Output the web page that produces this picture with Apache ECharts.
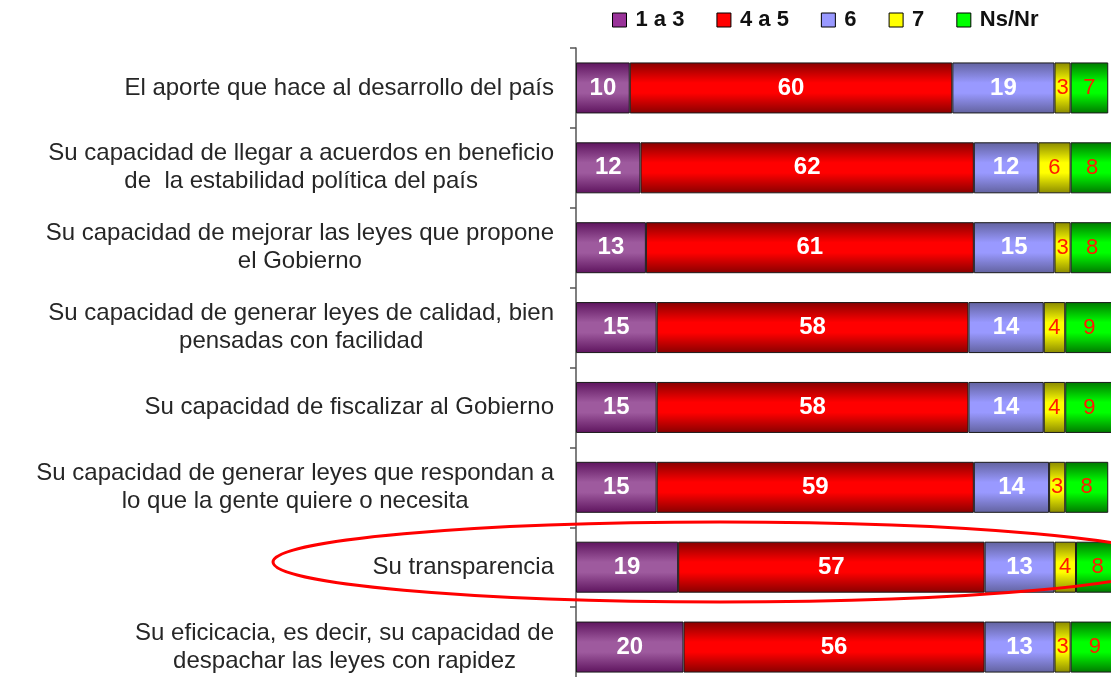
<!DOCTYPE html>
<html>
<head>
<meta charset="utf-8">
<script src="https://cdn.jsdelivr.net/npm/echarts@6/dist/echarts.min.js"></script>
<style>
  html, body { margin: 0; padding: 0; background: #fff; }
  #main { width: 1111px; height: 677px; }
</style>
</head>
<body>
<div id="main"></div>
<script>
var categories = [
  'El aporte que hace al desarrollo del país',
  'Su capacidad de llegar a acuerdos en beneficio\nde  la estabilidad política del país',
  'Su capacidad de mejorar las leyes que propone\nel Gobierno',
  'Su capacidad de generar leyes de calidad, bien\npensadas con facilidad',
  'Su capacidad de fiscalizar al Gobierno',
  'Su capacidad de generar leyes que respondan a\nlo que la gente quiere o necesita',
  'Su transparencia',
  'Su eficicacia, es decir, su capacidad de\ndespachar las leyes con rapidez'
];
var seriesNames = ['1 a 3', '4 a 5', '6', '7', 'Ns/Nr'];
var v1a3 = [10, 12, 13, 15, 15, 15, 19, 20];
var v4a5 = [60, 62, 61, 58, 58, 59, 57, 56];
var v6 = [19, 12, 15, 14, 14, 14, 13, 13];
var v7 = [3, 6, 3, 4, 4, 3, 4, 3];
var vNsNr = [7, 8, 8, 9, 9, 8, 8, 9];

var chart = echarts.init(document.getElementById('main'));

function grad(edge, mid) {
  return new echarts.graphic.LinearGradient(0, 0, 0, 1, [
    { offset: 0, color: edge },
    { offset: 0.4, color: mid },
    { offset: 0.6, color: mid },
    { offset: 1, color: edge }
  ]);
}

var flat = ['#993399', '#ff0000', '#9999ff', '#ffff00', '#00ff00'];
var fills = [
  grad('#5e145e', '#9e5a9e'),
  grad('#880000', '#ff0000'),
  grad('#62629e', '#9999ff'),
  grad('#8a8a00', '#ffff00'),
  grad('#007800', '#00ff00')
];
var values = [v1a3, v4a5, v6, v7, vNsNr];

var series = values.map(function (vals, i) {
  var small = i >= 3;
  return {
    name: seriesNames[i],
    type: 'bar',
    stack: 'total',
    barWidth: 51,
    data: vals,
    itemStyle: { color: fills[i], borderColor: '#1a1a1a', borderWidth: 1 },
    label: {
      show: true,
      position: 'inside',
      color: small ? '#ff1a00' : '#ffffff',
      fontSize: small ? 22 : 24,
      fontWeight: small ? 'normal' : 'bold',
      fontFamily: 'Liberation Sans'
    }
  };
});

var option = {
  backgroundColor: '#ffffff',
  animation: false,
  legend: {
    left: 612,
    top: 9,
    padding: 0,
    itemWidth: 14,
    itemHeight: 14,
    itemGap: 32,
    icon: 'rect',
    data: seriesNames.map(function (n, i) {
      return { name: n, itemStyle: { color: flat[i], borderColor: '#000', borderWidth: 1 } };
    }),
    textStyle: {
      fontSize: 22,
      fontWeight: 'bold',
      color: '#111',
      fontFamily: 'Liberation Sans',
      padding: [0, 0, 0, 4]
    }
  },
  grid: { left: 576, right: -8, top: 48, bottom: -10, outerBoundsMode: 'none', containLabel: false },
  xAxis: {
    type: 'value',
    min: 0,
    max: 101,
    show: false
  },
  yAxis: {
    type: 'category',
    inverse: true,
    data: categories,
    axisLine: { show: true, lineStyle: { color: '#555', width: 1.5 } },
    axisTick: { show: true, length: 6, lineStyle: { color: '#555', width: 1.5 } },
    axisLabel: {
      margin: 22,
      align: 'right',
      formatter: function (val) {
        return val.split('\n').map(function (l) { return '{c|' + l + '}'; }).join('\n');
      },
      rich: {
        c: {
          align: 'center',
          fontSize: 24,
          lineHeight: 28,
          color: '#262626',
          fontFamily: 'Liberation Sans'
        }
      }
    }
  },
  graphic: [{
    type: 'ellipse',
    shape: { cx: 720, cy: 562, rx: 447, ry: 40 },
    style: { fill: 'none', stroke: '#ff0000', lineWidth: 3 },
    z: 100
  }],
  series: series
};

chart.setOption(option);
</script>
</body>
</html>
